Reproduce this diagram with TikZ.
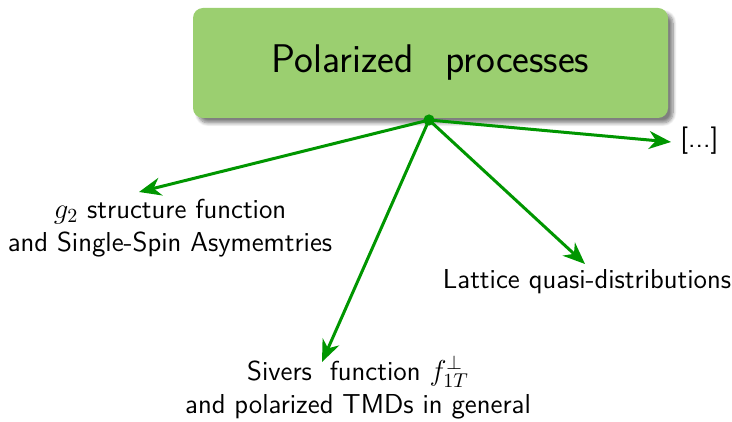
\documentclass[tikz,border=0pt]{standalone}
\usetikzlibrary{arrows.meta,shadows.blur}
\definecolor{boxgreen}{RGB}{155,207,112}
\definecolor{arrowgreen}{RGB}{0,150,0}
\begin{document}
\begin{tikzpicture}[x=0.5pt,y=-0.5pt,
  font=\sffamily,
  titlebox/.style={fill=boxgreen, rounded corners=5pt, minimum width=237.5pt, minimum height=55pt,
    inner sep=0pt, font=\sffamily\fontsize{20}{24}\selectfont,
    blur shadow={shadow xshift=2.5pt, shadow yshift=-2.5pt, shadow blur steps=8, shadow opacity=50}},
  lbl/.style={align=center, inner sep=0pt, font=\sffamily\fontsize{13.7}{16.5}\selectfont},
  link/.style={draw=arrowgreen, line width=1.5pt,
    -{Stealth[length=11pt, width=9pt, inset=3.5pt]}},
]
\useasboundingbox (0,0) rectangle (732,422);

\node[titlebox] (top) at (430.5,63) {Polarized\ \ \,processes};
\coordinate (hub) at (429,120);
\fill[arrowgreen] (hub) circle (2.8pt);

% anchor=base sits on the last line of each label
\node[lbl, anchor=base] (g2) at (170,251) {$g_2$ structure function\\and Single-Spin Asymemtries};
\node[lbl, anchor=base] (siv) at (358,413) {Sivers\ \ function $f_{1T}^{\perp}$\\and polarized TMDs in general};
\node[lbl, anchor=base] (lat) at (587,288) {Lattice quasi-distributions};
\node[lbl, anchor=base west] (etc) at (680,148) {[...]};

\coordinate (g2tip) at (139,192);
\coordinate (sivtip) at (322,362);
\coordinate (lattip) at (585,264);
\coordinate (etctip) at (671,142);

\draw[link] (hub) -- (g2tip);
\draw[link] (hub) -- (sivtip);
\draw[link] (hub) -- (lattip);
\draw[link] (hub) -- (etctip);
\end{tikzpicture}
\end{document}
